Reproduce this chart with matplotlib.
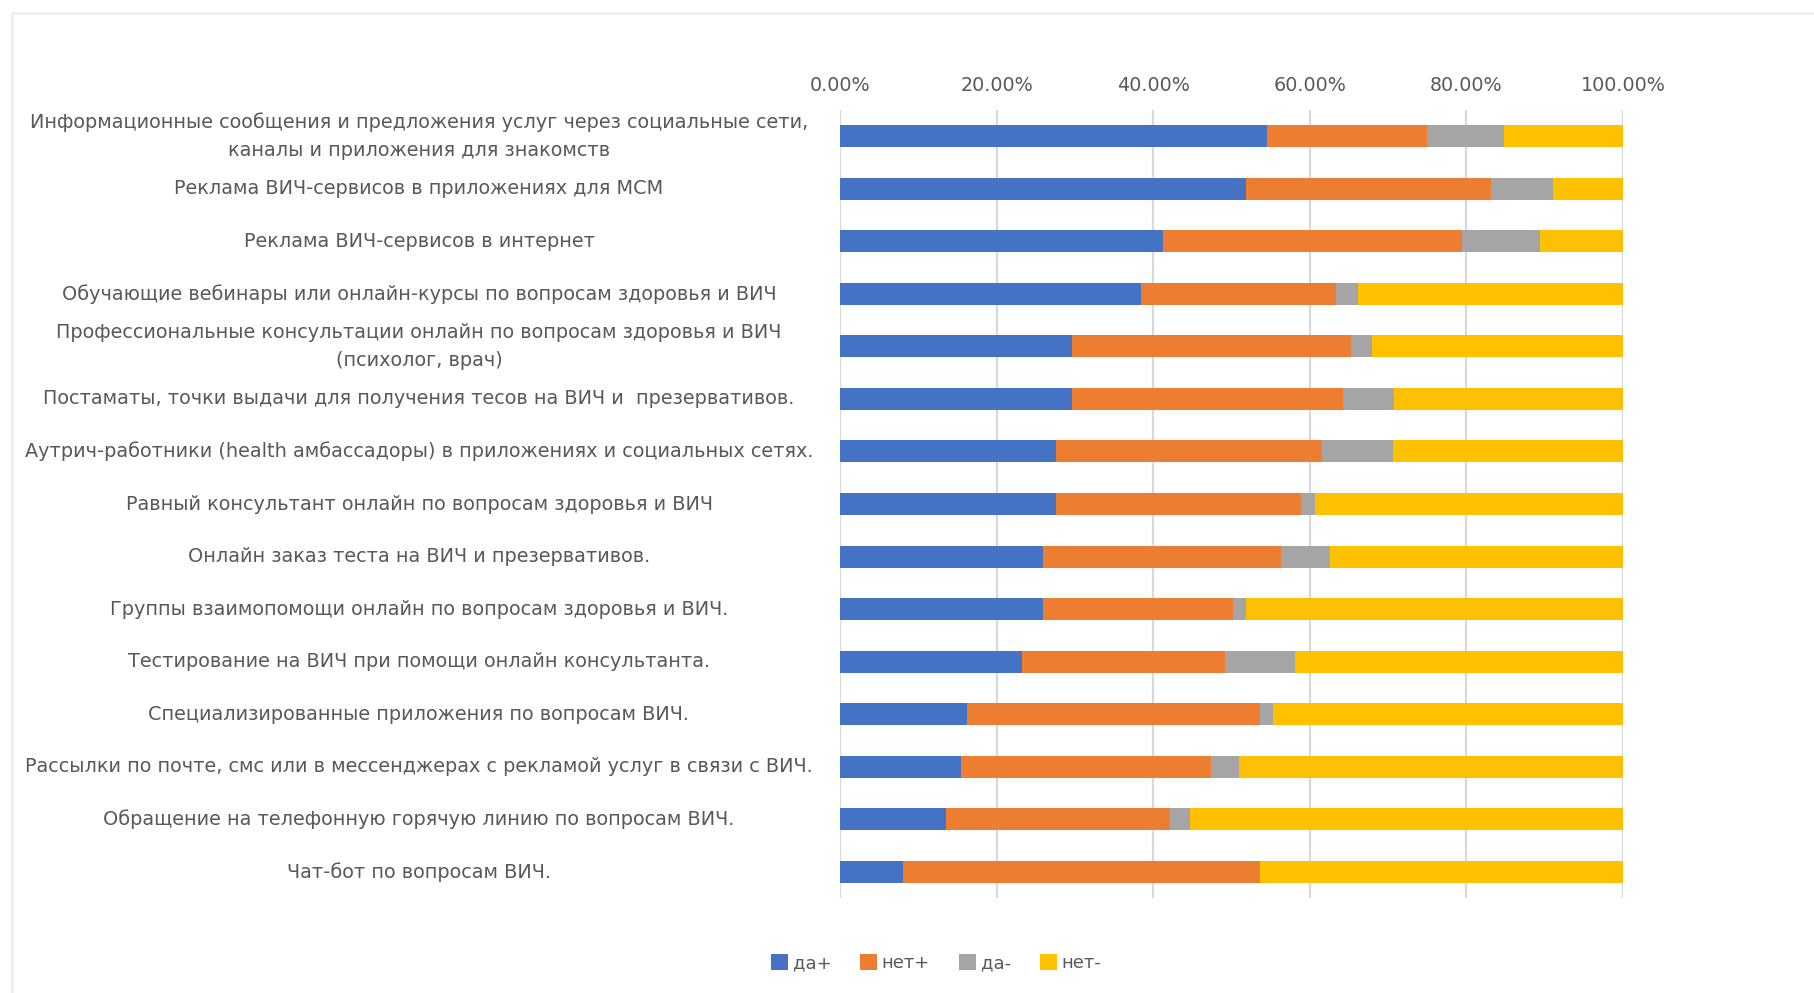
import matplotlib
matplotlib.use("Agg")
import matplotlib.pyplot as plt
import matplotlib.transforms as mtransforms
from matplotlib.patches import Patch
from matplotlib.lines import Line2D
from matplotlib.ticker import PercentFormatter
import numpy as np

# categories, top to bottom
categories = [
    "Информационные сообщения и предложения услуг через социальные сети,\nканалы и приложения для знакомств",
    "Реклама ВИЧ-сервисов в приложениях для МСМ",
    "Реклама ВИЧ-сервисов в интернет",
    "Обучающие вебинары или онлайн-курсы по вопросам здоровья и ВИЧ",
    "Профессиональные консультации онлайн по вопросам здоровья и ВИЧ\n(психолог, врач)",
    "Постаматы, точки выдачи для получения тесов на ВИЧ и  презервативов.",
    "Аутрич-работники (health амбассадоры) в приложениях и социальных сетях.",
    "Равный консультант онлайн по вопросам здоровья и ВИЧ",
    "Онлайн заказ теста на ВИЧ и презервативов.",
    "Группы взаимопомощи онлайн по вопросам здоровья и ВИЧ.",
    "Тестирование на ВИЧ при помощи онлайн консультанта.",
    "Специализированные приложения по вопросам ВИЧ.",
    "Рассылки по почте, смс или в мессенджерах с рекламой услуг в связи с ВИЧ.",
    "Обращение на телефонную горячую линию по вопросам ВИЧ.",
    "Чат-бот по вопросам ВИЧ.",
]

series_names = ["да+", "нет+", "да-", "нет-"]

# percent values
da_plus = [54.5, 51.9, 41.2, 38.4, 29.6, 29.6, 27.6, 27.6, 25.9, 25.9, 23.2, 16.2, 15.4, 13.5, 8.0]
net_plus = [20.5, 31.2, 38.2, 25.0, 35.6, 34.6, 33.9, 31.3, 30.4, 24.3, 26.0, 37.5, 32.0, 28.6, 45.7]
da_minus = [9.8, 8.0, 10.0, 2.7, 2.8, 6.5, 9.1, 1.8, 6.3, 1.7, 8.9, 1.6, 3.6, 2.6, 0.0]
net_minus = [15.2, 8.9, 10.6, 33.9, 32.0, 29.3, 29.4, 39.3, 37.4, 48.1, 41.9, 44.7, 49.0, 55.3, 46.3]

kleur = ["#4472C4", "#ED7D31", "#A5A5A5", "#FFC000"]
text_color = "#595959"

plt.rcParams["font.family"] = ["DejaVu Sans"]

fig = plt.figure(figsize=(18.14, 9.93), dpi=100)
ax = fig.add_axes([840 / 1814, 1 - 898 / 993, 783 / 1814, 788 / 993])

y = np.arange(len(categories))
left = np.zeros(len(categories))
for vals, name, c in zip([da_plus, net_plus, da_minus, net_minus], series_names, kleur):
    ax.barh(y, vals, left=left, height=0.42, color=c, label=name, zorder=3)
    left = left + np.array(vals)

ax.set_xlim(0, 100)
ax.set_ylim(len(categories) - 0.5, -0.5)
ax.set_xticks([0, 20, 40, 60, 80, 100])
ax.xaxis.set_major_formatter(PercentFormatter(xmax=100, decimals=2))
ax.xaxis.tick_top()
ax.tick_params(axis="x", length=0, pad=11, labelsize=13.8, labelcolor=text_color)
ax.set_yticks([])
ax.grid(axis="x", color="#D9D9D9", linewidth=1.6, zorder=0)
for s in ax.spines.values():
    s.set_visible(False)

# category labels, centered in a column left of the plot
trans = mtransforms.blended_transform_factory(fig.transFigure, ax.transData)
for i, lab in enumerate(categories):
    ax.text(419 / 1814, i, lab, transform=trans, ha="center", va="center",
            fontsize=13.9, color=text_color, linespacing=1.65)

handles = [Patch(facecolor=c, edgecolor="none") for c in kleur]
fig.legend(handles, series_names, loc="center", bbox_to_anchor=(936 / 1814, 1 - 963 / 993),
           ncol=4, frameon=False, fontsize=13, labelcolor=text_color,
           handlelength=0.95, handleheight=0.95, handletextpad=0.25, columnspacing=1.6)

# light chart border (only top and left edges are inside the picture)
fig.add_artist(Line2D([12 / 1814, 1], [1 - 13 / 993, 1 - 13 / 993], transform=fig.transFigure,
                      color="#EFEFEF", linewidth=2.2))
fig.add_artist(Line2D([12 / 1814, 12 / 1814], [0, 1 - 13 / 993], transform=fig.transFigure,
                      color="#EFEFEF", linewidth=2.2))

plt.savefig("out.png", dpi=100)
